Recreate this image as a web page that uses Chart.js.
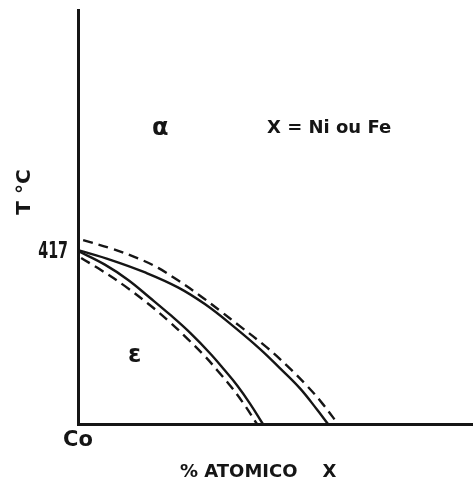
<!DOCTYPE html>
<html>
<head>
<meta charset="utf-8">
<script src="https://cdn.jsdelivr.net/npm/chart.js@4"></script>
<style>
  html, body { margin: 0; padding: 0; background: #fff; }
  canvas { display: block; }
</style>
</head>
<body>
<canvas id="phase" width="473" height="481"></canvas>
<script>
// Co-X phase diagram: alpha/epsilon transition curves (X = Ni or Fe)
const tempTicks = [417];
const compTicks = [0];
const compTickLabels = ['Co'];

// upper boundary pair (solid + dashed)
const upperSolidX = [0, 8.4, 17.0, 25.3, 32.2, 39.2, 46.1, 51.1, 56.2, 60.5, 63.3];
const upperSolidY = [420, 396, 366, 330, 289, 237, 181, 135, 86, 35, 0];
const upperDashX = [1.3, 8.4, 15.2, 20.3, 25.3, 30.9, 35.9, 40.9, 47.8, 52.9, 58.0, 62.0, 65.8];
const upperDashY = [444, 424, 400, 377, 347, 310, 274, 237, 185, 141, 92, 48, 0];

// lower boundary pair (solid + dashed)
const lowerSolidX = [0, 6.8, 12.7, 18.2, 23.3, 28.4, 33.7, 37.2, 40.3, 43.5, 46.8];
const lowerSolidY = [418, 385, 348, 305, 264, 220, 168, 129, 93, 50, 0];
const lowerDashX = [0.8, 5.8, 11.9, 17.7, 22.8, 27.8, 32.2, 35.4, 38.5, 41.8, 45.3];
const lowerDashY = [401, 372, 333, 291, 250, 205, 163, 128, 93, 51, 0];

const INK = '#151515';
const FONT = '"DejaVu Sans", sans-serif';

function pts(xs, ys) {
    return xs.map((x, i) => ({ x: x, y: ys[i] }));
}

function curve(xs, ys, dashed) {
    return {
        data: pts(xs, ys),
        borderColor: INK,
        borderWidth: 2.4,
        borderDash: dashed ? [10, 6] : [],
        pointRadius: 0,
        tension: 0.4,
        fill: false
    };
}

// free text: phase labels, axis titles and the narrow 417 tick
const labelsPlugin = {
    id: 'phaseLabels',
    afterDraw(chart) {
        const ctx = chart.ctx;
        const yScale = chart.scales.y;
        ctx.save();
        ctx.fillStyle = INK;
        ctx.textAlign = 'left';
        ctx.textBaseline = 'alphabetic';

        ctx.font = 'bold 24px ' + FONT;
        ctx.fillText('α', 152, 135);
        ctx.fillText('ε', 128, 362);

        ctx.font = 'bold 18px ' + FONT;
        ctx.fillText('X = Ni ou Fe', 267, 133);
        ctx.fillText('% ATOMICO    X', 180, 477);

        // condensed tick label on the temperature axis
        tempTicks.forEach(v => {
            ctx.save();
            ctx.translate(chart.chartArea.left - 10, yScale.getPixelForValue(v));
            ctx.scale(0.62, 1);
            ctx.textAlign = 'right';
            ctx.textBaseline = 'middle';
            ctx.font = 'bold 23px ' + FONT;
            ctx.fillText(String(v), 0, 1);
            ctx.restore();
        });

        // y title, rotated
        ctx.translate(25, 192);
        ctx.rotate(-Math.PI / 2);
        ctx.textAlign = 'center';
        ctx.textBaseline = 'middle';
        ctx.font = 'bold 20px ' + FONT;
        ctx.fillText('T °C', 0, 0);
        ctx.restore();
    }
};

new Chart(document.getElementById('phase'), {
    type: 'line',
    data: {
        datasets: [
            curve(upperDashX, upperDashY, true),
            curve(upperSolidX, upperSolidY, false),
            curve(lowerSolidX, lowerSolidY, false),
            curve(lowerDashX, lowerDashY, true)
        ]
    },
    options: {
        responsive: false,
        animation: false,
        layout: { padding: { top: 10, left: 0, right: 0, bottom: 0 } },
        plugins: {
            legend: { display: false },
            tooltip: { enabled: false }
        },
        scales: {
            x: {
                type: 'linear',
                min: 0,
                max: 100,
                grid: { display: false, drawTicks: false },
                border: { display: true, color: INK, width: 3 },
                afterBuildTicks(scale) {
                    scale.ticks = compTicks.map(v => ({ value: v }));
                },
                afterFit(scale) {
                    scale.height = 57;
                    scale.paddingLeft = 0;
                    scale.paddingRight = 0;
                },
                ticks: {
                    color: INK,
                    padding: 4,
                    maxRotation: 0,
                    font: { family: FONT, size: 21, weight: 'bold' },
                    callback: (v) => compTickLabels[compTicks.indexOf(v)] || ''
                }
            },
            y: {
                min: 0,
                max: 1000,
                grid: { display: false, drawTicks: false },
                border: { display: true, color: INK, width: 3 },
                afterBuildTicks(scale) {
                    scale.ticks = tempTicks.map(v => ({ value: v }));
                },
                afterFit(scale) {
                    scale.width = 78;
                    scale.paddingTop = 0;
                    scale.paddingBottom = 0;
                },
                ticks: { display: false }
            }
        }
    },
    plugins: [labelsPlugin]
});
</script>
</body>
</html>
